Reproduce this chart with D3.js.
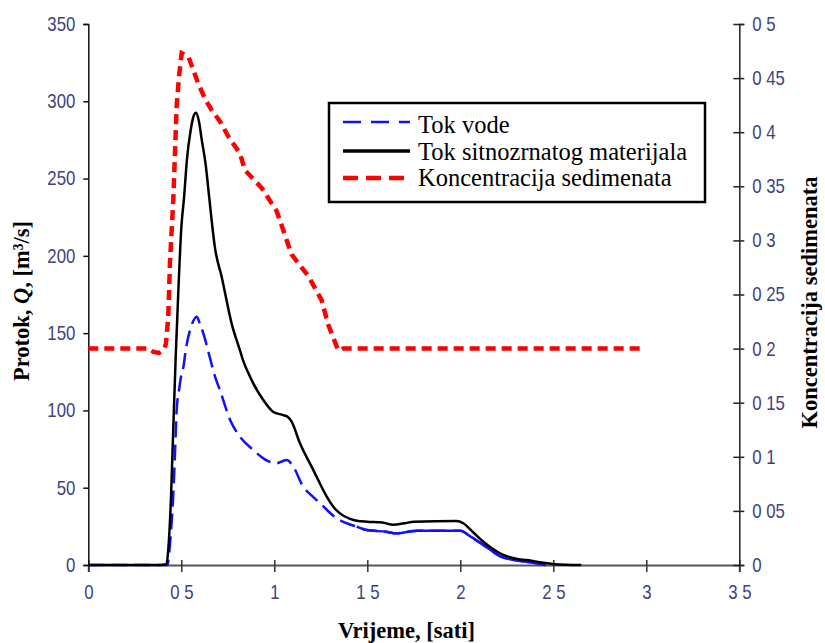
<!DOCTYPE html>
<html><head><meta charset="utf-8">
<script src="https://cdn.jsdelivr.net/npm/d3@7"></script>
<style>
html,body{margin:0;padding:0;background:#fff;}
svg{display:block;}
.serif{font-family:"Liberation Serif","Times New Roman",Tinos,"DejaVu Serif",serif;}
.sans{font-family:"Liberation Sans",Arial,sans-serif;}
</style></head>
<body>
<svg id="chart" width="825" height="643"></svg>
<script>
// ---- data ----
const timeTok = [0,0.39,0.42,0.43,0.445,0.457,0.47,0.485,0.5,0.515,0.53,0.55,0.565,0.579,0.595,0.61,0.63,0.65,0.665,0.68,0.717,0.771,0.815,0.833,0.869,0.887,0.941,0.995,1.048,1.07,1.093,1.138,1.21,1.282,1.317,1.353,1.407,1.45,1.5,1.58,1.64,1.7,1.75,1.98,2.016,2.07,2.124,2.213,2.3,2.357,2.446,2.5,2.57,2.65];
const tokSitnozrnatog = [0,0,0.5,10,45,89,135,180,218,238,262,281,290,292.6,287,275,260,238,221,206,186.5,156,139,132,122,117.5,106.7,99,97,96,92.7,78.7,61.4,44.2,37.7,33.4,29.8,28.5,28,27.5,26,27,28,28.5,27,21,15,7.6,4,3.2,1.5,0.7,0.2,0];

const timeVoda = [0,0.4,0.425,0.44,0.457,0.467,0.475,0.49,0.502,0.511,0.525,0.547,0.565,0.583,0.6,0.618,0.654,0.681,0.708,0.762,0.815,0.887,0.941,0.98,1.013,1.05,1.067,1.102,1.156,1.2,1.246,1.336,1.4,1.443,1.497,1.6,1.658,1.72,1.766,2.0,2.06,2.124,2.213,2.3,2.357,2.42,2.46];
const tokVode = [0,0,0,15,46,75,100,115,124,128,140,152,158,160.6,156,150,134,122,113,94,83,74.4,69,66.5,65.8,67.5,67.9,63.6,50.6,45,39.9,30.2,26.5,24.8,22.6,21.5,20.5,21.5,22.2,22.2,18,13,5.8,3,2.1,0.8,0];

const timeKonc = [0,0.33,0.35,0.38,0.41,0.418,0.43,0.439,0.457,0.475,0.488,0.502,0.538,0.591,0.63,0.663,0.708,0.753,0.815,0.842,0.932,1.013,1.067,1.093,1.183,1.254,1.29,1.34,1.35,1.37,2.98];
const koncentracija = [0.2,0.2,0.197,0.196,0.2,0.205,0.23,0.279,0.338,0.424,0.452,0.473,0.47,0.445,0.43,0.4205,0.41,0.396,0.3805,0.365,0.3485,0.327,0.3,0.287,0.267,0.245,0.222,0.2,0.198,0.2,0.2];

const xTicks = [0,0.5,1,1.5,2,2.5,3,3.5];
const xTickLabels = ["0","0 5","1","1 5","2","2 5","3","3 5"];
const leftTicks = [0,50,100,150,200,250,300,350];
const leftTickLabels = ["0","50","100","150","200","250","300","350"];
const rightTicks = [0,0.05,0.1,0.15,0.2,0.25,0.3,0.35,0.4,0.45,0.5];
const rightTickLabels = ["0","0 05","0 1","0 15","0 2","0 25","0 3","0 35","0 4","0 45","0 5"];

const legendLabels = ["Tok vode","Tok sitnozrnatog materijala","Koncentracija sedimenata"];

// ---- drawing ----
const svg = d3.select("#chart");
const x = d3.scaleLinear().domain([0,3.5]).range([88.3,739.3]);
const yL = d3.scaleLinear().domain([0,350]).range([565,24]);
const yR = d3.scaleLinear().domain([0,0.5]).range([565,24]);

const tickColor = "#3f3f80";
const SX = 0.84;

function styleTicks(g){
  g.selectAll(".tick text").attr("class","sans").attr("font-family",null).attr("font-size",null)
    .style("font-size","20px").attr("fill",tickColor);
}

// x axis
const gx = svg.append("g").attr("transform","translate(0,565)")
  .call(d3.axisBottom(x).tickValues(xTicks).tickSizeOuter(0).tickSize(7)
    .tickFormat((d,i)=>xTickLabels[i]));
gx.attr("font-family",null).attr("font-size",null);
gx.select(".domain").attr("stroke","#555").attr("stroke-width",2);
gx.selectAll(".tick line").attr("y1",-5).attr("y2",7).attr("stroke","#333").attr("stroke-width",1.5);
gx.selectAll(".tick text").attr("y",20).attr("dy","0.71em").attr("transform",`scale(${SX},1)`);
styleTicks(gx);

// left axis
const gl = svg.append("g").attr("transform","translate(88.3,0)")
  .call(d3.axisLeft(yL).tickValues(leftTicks).tickSizeOuter(0).tickSize(5)
    .tickFormat((d,i)=>leftTickLabels[i]));
gl.attr("font-family",null).attr("font-size",null);
gl.select(".domain").attr("stroke","#111").attr("stroke-width",1.5);
gl.selectAll(".tick line").attr("stroke","#111").attr("stroke-width",1.5);
gl.selectAll(".tick text").attr("x",-13/SX).attr("transform",`scale(${SX},1)`);
styleTicks(gl);

// right axis
const gr = svg.append("g").attr("transform","translate(739.3,0)")
  .call(d3.axisRight(yR).tickValues(rightTicks).tickSizeOuter(0).tickSize(5)
    .tickFormat((d,i)=>rightTickLabels[i]));
gr.attr("font-family",null).attr("font-size",null);
gr.select(".domain").attr("stroke","#222").attr("stroke-width",1.5);
gr.selectAll(".tick line").attr("x1",-6).attr("x2",5).attr("stroke","#222").attr("stroke-width",1.5);
gr.selectAll(".tick text").attr("x",13/SX).attr("transform",`scale(${SX},1)`);
styleTicks(gr);

// lines
const lineL = d3.line().x(d=>x(d[0])).y(d=>yL(d[1])).curve(d3.curveMonotoneX);
const lineR = d3.line().x(d=>x(d[0])).y(d=>yR(d[1]));

const vodaData = d3.zip(timeVoda, tokVode);
const tokData = d3.zip(timeTok, tokSitnozrnatog);
const koncData = d3.zip(timeKonc, koncentracija);

svg.append("path").datum(vodaData).attr("d",lineL).attr("fill","none")
  .attr("stroke","#1010ff").attr("stroke-width",2.5).attr("stroke-dasharray","16,7");
svg.append("path").datum(vodaData.filter(d=>d[0]>=1.44)).attr("d",lineL).attr("fill","none")
  .attr("stroke","#1010ff").attr("stroke-width",2.5);
svg.append("path").datum(tokData).attr("d",lineL).attr("fill","none")
  .attr("stroke","#000").attr("stroke-width",2.5);
svg.append("path").datum(koncData).attr("d",lineR).attr("fill","none")
  .attr("stroke","#ff0000").attr("stroke-width",4.5).attr("stroke-dasharray","10,6");

// legend
const lg = svg.append("g");
lg.append("rect").attr("x",329).attr("y",103).attr("width",376).attr("height",99)
  .attr("fill","#fff").attr("stroke","#000").attr("stroke-width",2.5);
const legStyles = [
  {c:"#1010ff",w:2.5,dash:"18,10"},
  {c:"#000",w:3.5,dash:null},
  {c:"#ff0000",w:4.5,dash:"15,8"}
];
const legLineY = [122,151,178];
const legTextY = [133,159.5,186];
legendLabels.forEach((lab,i)=>{
  const s = legStyles[i];
  const l = lg.append("line").attr("x1",343).attr("x2",410).attr("y1",legLineY[i]).attr("y2",legLineY[i])
    .attr("stroke",s.c).attr("stroke-width",s.w);
  if(s.dash) l.attr("stroke-dasharray",s.dash);
  lg.append("text").attr("class","serif").attr("x",418).attr("y",legTextY[i]).text(lab)
    .style("font-size","24.5px").attr("fill","#000");
});

// axis titles
const lt = svg.append("text").attr("class","serif").attr("transform","translate(29,301) rotate(-90)")
  .attr("text-anchor","middle").style("font-size","22.5px").style("font-weight","bold");
lt.append("tspan").text("Protok, ");
lt.append("tspan").style("font-style","italic").text("Q");
lt.append("tspan").text(", [m³/s]");

svg.append("text").attr("class","serif").attr("x",406.5).attr("y",638).attr("text-anchor","middle")
  .style("font-size","22.5px").style("font-weight","bold").text("Vrijeme, [sati]");

svg.append("text").attr("class","serif").attr("transform","translate(817,302.5) rotate(-90)")
  .attr("text-anchor","middle").style("font-size","22.5px").style("font-weight","bold")
  .text("Koncentracija sedimenata");
</script>
</body></html>
